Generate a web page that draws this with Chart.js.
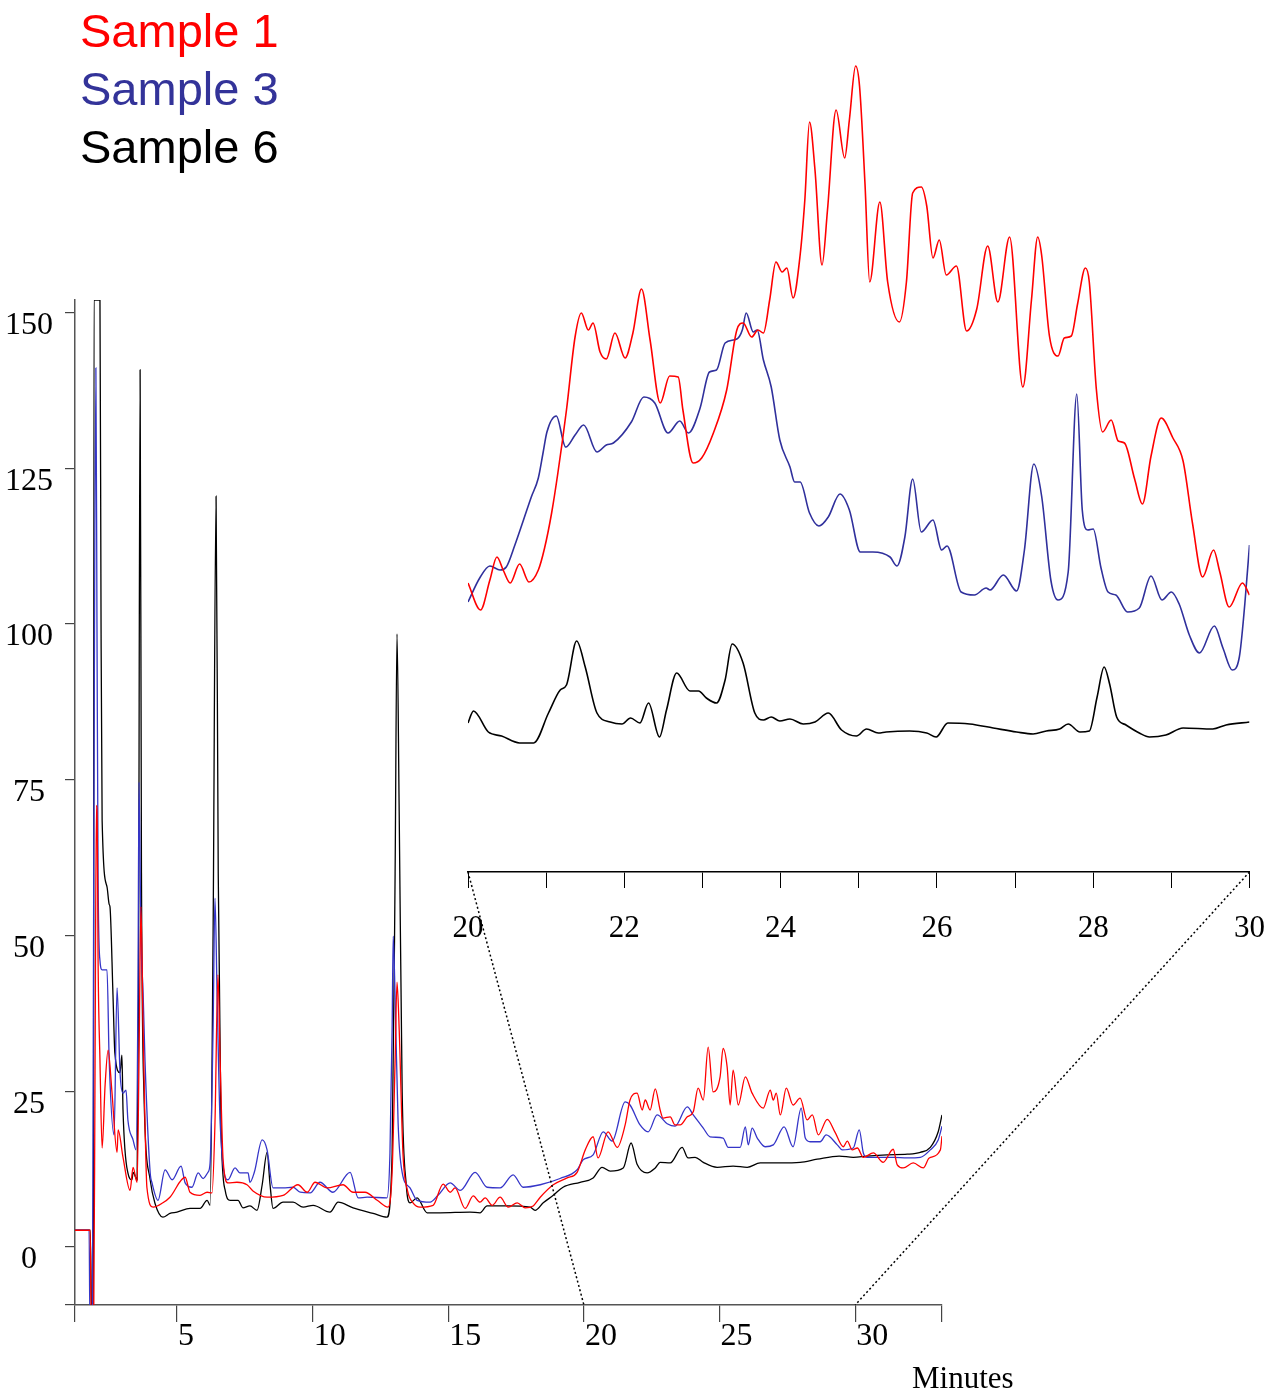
<!DOCTYPE html>
<html>
<head>
<meta charset="utf-8">
<title>Chromatogram</title>
<script src="https://cdn.jsdelivr.net/npm/chart.js@4.4.1/dist/chart.umd.min.js"></script>
<style>
  body { margin: 0; background: #fff; }
  #wrap { position: relative; width: 1287px; height: 1398px; overflow: hidden; }
  canvas { position: absolute; left: 0; top: 0; }
  .legend { position: absolute; left: 80px; font-family: "Liberation Sans", Arial, sans-serif; font-size: 47px; line-height: normal; white-space: nowrap; }
  #minutes { position: absolute; left: 912px; top: 1360px; font-family: "Liberation Serif", "Times New Roman", serif; font-size: 31px; line-height: normal; }
</style>
</head>
<body>
<div id="wrap">
  <canvas id="mainChart" width="1287" height="1398"></canvas>
  <canvas id="zoomChart" width="1287" height="1398"></canvas>
  <div id="minutes">Minutes</div>
</div>
<script>
const seriesNames = ['Sample 1', 'Sample 3', 'Sample 6'];
const legendColors = ['#ff0000', '#333399', '#000000'];
const mainColors = ['#ff0000', '#3535c8', '#000000'];
const zoomColors = ['#ff0000', '#30309c', '#000000'];

// full run (minutes / signal)
const s1Time = [
  1.24, 1.80, 1.84, 1.93, 1.98, 2.03, 2.06, 2.09, 2.16, 2.24,
  2.35, 2.46, 2.60, 2.79, 2.83, 3.01, 3.27, 3.38, 3.53, 3.60,
  3.67, 3.75, 3.82, 3.89, 4.12, 4.48, 4.74, 5.30, 5.48, 5.85,
  6.11, 6.29, 6.40, 6.51, 6.59, 6.70, 6.88, 7.21, 7.58, 7.80,
  8.32, 8.91, 9.46, 9.80, 10.09, 10.53, 11.12, 11.49, 11.93, 12.38,
  12.78, 12.93, 13.04, 13.11, 13.19, 13.33, 13.50, 13.70, 13.96, 14.44,
  14.81, 15.07, 15.25, 15.62, 15.92, 16.17, 16.36, 16.62, 16.91, 17.21,
  17.54, 17.83, 18.13, 18.39, 18.87, 19.38, 19.75, 20.05, 20.34, 20.52,
  20.89, 21.23, 21.52, 21.70, 21.96, 22.15, 22.26, 22.44, 22.63, 22.81,
  22.92, 23.18, 23.36, 23.55, 23.81, 24.03, 24.21, 24.40, 24.58, 24.76,
  25.02, 25.13, 25.28, 25.39, 25.50, 25.69, 25.95, 26.20, 26.61, 26.87,
  26.98, 27.09, 27.24, 27.46, 27.71, 27.97, 28.23, 28.42, 28.64, 28.97,
  29.26, 29.56, 29.71, 29.89, 30.08, 30.30, 30.67, 31.03, 31.40, 31.55,
  31.77, 32.14, 32.51, 32.73, 33.14, 33.20
];
const s1Value = [
  2.7, 2.7, -12, -12, 30, 70.9, 68, 46.5, 30, 15.9,
  26, 31.6, 25, 15.2, 18.8, 14.4, 9.1, 12.8, 10.4, 30,
  54.6, 35, 20, 9.6, 6.4, 7.1, 8.0, 11.2, 8.8, 8.3,
  8.8, 8.7, 20, 43.7, 30, 14, 10.3, 10.4, 10.0, 9.0,
  8.0, 8.3, 10.0, 8.8, 10.4, 9.5, 10.0, 8.8, 8.8, 7.5,
  6.4, 12, 30, 42.5, 35, 15, 9, 7.1, 6.4, 6.7,
  10.1, 8.8, 9.5, 6.2, 8.2, 7.2, 7.9, 6.7, 8.0, 6.4,
  7.1, 6.3, 6.6, 8.0, 10.0, 11.1, 12.0, 15.6, 17.7, 14.3,
  18.5, 16.0, 19.6, 23.6, 24.7, 22.0, 23.6, 22.0, 25.4, 22.0,
  20.7, 20.9, 19.6, 19.6, 20.9, 21.7, 25.5, 23.6, 32.1, 24.9,
  27.3, 31.9, 28.9, 22.8, 28.4, 22.8, 27.3, 24.7, 22.3, 25.2,
  23.6, 24.7, 21.2, 25.5, 22.8, 23.9, 20.4, 21.2, 18.0, 20.5,
  18.4, 16.1, 17.0, 15.6, 15.9, 14.4, 15.1, 13.6, 15.7, 13.2,
  12.7, 13.5, 12.7, 14.3, 15.6, 17.8
];

const s3Time = [
  1.24, 1.76, 1.79, 1.88, 1.93, 2.01, 2.05, 2.09, 2.16, 2.24,
  2.42, 2.50, 2.68, 2.79, 2.90, 3.01, 3.12, 3.19, 3.38, 3.49,
  3.56, 3.60, 3.67, 3.75, 3.82, 4.01, 4.08, 4.30, 4.56, 4.82,
  5.15, 5.30, 5.55, 5.78, 5.96, 6.14, 6.22, 6.33, 6.40, 6.48,
  6.59, 6.88, 7.14, 7.32, 7.62, 7.69, 7.85, 8.14, 8.32, 8.54,
  8.91, 9.28, 9.54, 9.91, 10.27, 10.75, 11.38, 11.68, 12.01, 12.74,
  12.85, 12.93, 12.97, 13.04, 13.15, 13.30, 13.59, 13.85, 14.33, 14.62,
  15.07, 15.44, 15.99, 16.43, 16.91, 17.39, 17.76, 18.39, 19.12, 19.75,
  19.97, 20.34, 20.71, 21.04, 21.52, 21.70, 22.07, 22.37, 22.70, 23.07,
  23.36, 23.81, 24.03, 24.40, 24.65, 25.13, 25.32, 25.76, 25.95, 26.06,
  26.20, 26.39, 26.68, 26.98, 27.38, 27.71, 28.01, 28.16, 28.34, 28.71,
  28.93, 29.34, 29.52, 29.93, 30.15, 30.30, 30.44, 31.40, 31.92, 32.40,
  32.77, 33.06, 33.20
];
const s3Value = [
  2.7, 2.7, -12, -12, 60, 141.1, 100, 60, 46, 44.5,
  44.5, 30, 18, 41.6, 28, 24.7, 25.2, 20.4, 17.2, 15.6,
  40, 74.6, 50, 40.9, 30, 12, 10.3, 7.5, 12.4, 10.8,
  13.0, 10.3, 9.6, 11.9, 11.0, 12.0, 13.5, 35, 56, 40,
  20, 10.8, 12.7, 11.9, 11.9, 10.4, 12, 17.2, 15.6, 9.5,
  9.5, 9.6, 8.8, 8.7, 10.4, 8.8, 12.0, 7.9, 8.0, 7.9,
  15, 35, 49.9, 40, 20, 12, 9.5, 7.5, 7.2, 8.3,
  10.3, 9.1, 12.0, 9.6, 9.5, 11.6, 9.6, 10.0, 11.0, 12.4,
  14.0, 14.8, 18.5, 17.0, 23.3, 22.8, 19.6, 18.5, 21.2, 19.8,
  19.4, 22.5, 21.2, 19.1, 17.7, 17.5, 16.0, 16.0, 19.3, 16.4,
  19.1, 17.5, 16.1, 16.4, 19.3, 16.1, 22.3, 17.5, 16.9, 16.9,
  18.0, 16.4, 15.6, 15.9, 18.8, 15.1, 14.4, 14.4, 14.3, 14.4,
  15.6, 17.2, 19.4
];

const s6Time = [
  1.24, 1.80, 1.86, 1.92, 1.94, 2.16, 2.20, 2.24, 2.42, 2.50,
  2.53, 2.64, 2.71, 2.90, 2.97, 3.01, 3.19, 3.34, 3.38, 3.53,
  3.58, 3.64, 3.69, 3.78, 4.01, 4.19, 4.48, 4.74, 5.00, 5.48,
  5.85, 6.11, 6.22, 6.33, 6.44, 6.52, 6.62, 6.78, 6.96, 7.25,
  7.43, 7.69, 7.95, 8.14, 8.32, 8.43, 8.54, 8.91, 9.28, 9.65,
  10.02, 10.64, 10.94, 11.49, 12.23, 12.74, 12.93, 13.04, 13.11, 13.19,
  13.30, 13.45, 13.59, 13.85, 14.22, 14.70, 15.80, 16.17, 16.43, 17.17,
  18.02, 18.20, 18.50, 18.87, 19.23, 19.86, 20.34, 20.67, 20.97, 21.45,
  21.74, 21.96, 22.33, 22.63, 22.81, 23.18, 23.62, 23.84, 24.10, 24.40,
  24.91, 25.50, 26.02, 26.50, 27.24, 27.97, 28.60, 29.41, 29.93, 30.44,
  31.18, 31.92, 32.40, 32.77, 33.06, 33.20
];
const s6Value = [
  2.7, 2.7, -12, -12, 152, 152, 100, 68.5, 57.8, 55,
  54.6, 40.5, 31.1, 28, 30.8, 22.0, 11.9, 10.8, 12.0, 10.8,
  40, 140.8, 60, 25, 10.8, 7.0, 4.8, 5.4, 5.6, 6.2,
  6.2, 7.5, 6.7, 50, 120.5, 60, 20, 9, 7.5, 7.5,
  6.3, 6.6, 5.9, 10, 15.2, 10, 6.2, 7.2, 7.2, 6.4,
  6.7, 5.6, 7.2, 6.3, 5.4, 4.8, 15, 60, 98.4, 70,
  25, 10, 7.1, 7.9, 5.5, 5.5, 5.6, 5.5, 6.6, 6.6,
  6.4, 5.9, 7.1, 8.3, 9.6, 10.4, 11.1, 12.8, 12.2, 12.7,
  16.7, 13.3, 11.9, 12.7, 13.6, 13.5, 16.0, 14.3, 14.4, 13.6,
  12.8, 13.0, 12.8, 13.5, 13.5, 13.6, 14.1, 14.6, 14.4, 14.6,
  14.8, 14.9, 15.2, 16.0, 18.5, 21.2
];

// expanded 20-30 min window (offset, rescaled signal)
const z1Time = [
  20.00, 20.16, 20.28, 20.37, 20.45, 20.54, 20.66, 20.78, 20.90, 20.98,
  21.07, 21.15, 21.26, 21.37, 21.45, 21.54, 21.60, 21.69, 21.77, 21.88,
  22.01, 22.11, 22.22, 22.33, 22.46, 22.58, 22.69, 22.75, 22.88, 22.99,
  23.14, 23.31, 23.44, 23.52, 23.63, 23.71, 23.78, 23.86, 23.94, 24.02,
  24.08, 24.16, 24.25, 24.31, 24.37, 24.44, 24.53, 24.60, 24.71, 24.82,
  24.88, 24.96, 25.01, 25.08, 25.14, 25.27, 25.37, 25.52, 25.61, 25.69,
  25.80, 25.87, 25.95, 26.03, 26.12, 26.25, 26.38, 26.51, 26.65, 26.78,
  26.93, 27.10, 27.21, 27.29, 27.34, 27.44, 27.55, 27.63, 27.72, 27.80,
  27.90, 27.95, 28.04, 28.12, 28.23, 28.32, 28.40, 28.53, 28.63, 28.74,
  28.87, 29.02, 29.15, 29.27, 29.40, 29.54, 29.62, 29.74, 29.91, 30.00
];
const z1Value = [
  28.9, 26.2, 29.2, 31.5, 30.2, 28.9, 30.8, 29.0, 30.2, 32.4,
  35.9, 39.9, 46.2, 53.5, 55.9, 54.2, 54.9, 52.0, 51.3, 53.9,
  51.4, 53.9, 58.3, 53.2, 46.9, 49.6, 49.5, 46.2, 40.9, 41.4,
  43.9, 48.2, 54.2, 54.9, 53.5, 54.2, 53.9, 57.2, 61.0, 60.0,
  60.4, 57.4, 61.7, 67.2, 75.0, 70.2, 60.7, 66.2, 76.2, 71.4,
  75.2, 80.6, 78.6, 68.8, 59.0, 67.0, 59.0, 55.0, 59.0, 67.9,
  68.5, 66.6, 61.4, 63.2, 59.7, 60.6, 54.1, 56.3, 62.6, 57.0,
  63.5, 48.5, 57.2, 63.5, 61.7, 53.6, 51.6, 53.4, 53.6, 56.8,
  60.4, 59.0, 48.3, 44.0, 45.2, 43.1, 42.9, 39.3, 36.8, 41.6,
  45.4, 43.4, 41.1, 34.9, 29.5, 32.2, 30.0, 26.5, 28.9, 27.7
];

const z3Time = [
  20.00, 20.15, 20.28, 20.41, 20.49, 20.60, 20.71, 20.81, 20.90, 20.96,
  21.01, 21.13, 21.25, 21.37, 21.48, 21.65, 21.77, 21.86, 22.09, 22.25,
  22.39, 22.56, 22.71, 22.82, 22.97, 23.09, 23.18, 23.29, 23.44, 23.51,
  23.56, 23.65, 23.70, 23.78, 23.88, 23.99, 24.12, 24.18, 24.25, 24.37,
  24.49, 24.61, 24.76, 24.88, 25.02, 25.18, 25.40, 25.49, 25.59, 25.69,
  25.80, 25.95, 26.06, 26.13, 26.31, 26.48, 26.63, 26.68, 26.85, 27.02,
  27.12, 27.24, 27.34, 27.46, 27.55, 27.68, 27.79, 27.86, 27.93, 28.00,
  28.10, 28.19, 28.29, 28.44, 28.59, 28.74, 28.88, 29.00, 29.10, 29.23,
  29.36, 29.55, 29.66, 29.78, 29.87, 29.94, 30.00
];
const z3Value = [
  27.0, 29.4, 30.6, 30.2, 30.5, 32.7, 35.2, 37.5, 39.4, 41.9,
  44.0, 45.6, 42.5, 43.7, 44.7, 42.0, 42.7, 42.9, 45.0, 47.5,
  46.9, 43.9, 45.1, 43.9, 46.4, 50.0, 50.2, 52.9, 53.3, 54.2,
  55.9, 54.0, 54.2, 51.2, 48.5, 43.2, 40.5, 39.0, 39.0, 35.9,
  34.6, 35.5, 37.8, 36.2, 32.0, 32.0, 31.5, 30.6, 33.5, 39.3,
  34.0, 35.2, 32.2, 32.6, 28.0, 27.7, 28.4, 28.2, 29.7, 28.1,
  32.2, 40.8, 37.6, 29.1, 27.2, 30.0, 47.8, 36.2, 34.2, 34.3,
  30.4, 28.0, 27.7, 26.0, 26.4, 29.6, 27.2, 28.0, 26.8, 23.7,
  21.9, 24.6, 22.4, 20.2, 21.5, 26.8, 32.7
];

const z6Time = [
  20.00, 20.07, 20.26, 20.43, 20.66, 20.84, 21.03, 21.18, 21.26, 21.39,
  21.50, 21.65, 21.82, 21.97, 22.08, 22.20, 22.31, 22.45, 22.54, 22.67,
  22.84, 22.95, 23.05, 23.18, 23.29, 23.38, 23.52, 23.67, 23.78, 23.88,
  23.99, 24.12, 24.29, 24.44, 24.61, 24.78, 24.97, 25.10, 25.25, 25.35,
  25.65, 25.87, 25.99, 26.14, 26.42, 26.72, 27.02, 27.23, 27.40, 27.57,
  27.68, 27.83, 27.95, 28.05, 28.14, 28.21, 28.30, 28.42, 28.59, 28.72,
  28.93, 29.15, 29.53, 29.70, 30.00
];
const z6Value = [
  14.9, 16.1, 14.0, 13.6, 12.9, 12.9, 15.9, 18.2, 18.7, 23.1,
  20.5, 15.9, 15.0, 14.8, 15.4, 14.9, 16.9, 13.5, 16.2, 19.9,
  18.1, 18.1, 17.4, 16.9, 19.2, 22.8, 20.9, 15.9, 15.2, 15.5,
  15.1, 15.3, 14.8, 15.0, 15.9, 14.2, 13.6, 14.3, 13.9, 14.0,
  14.1, 13.9, 13.5, 14.9, 14.8, 14.4, 14.0, 13.8, 14.1, 14.3,
  14.8, 14.0, 14.1, 17.5, 20.5, 18.8, 15.5, 14.7, 13.9, 13.5,
  13.7, 14.4, 14.3, 14.7, 15.0
];

const mainXTicks = [5, 10, 15, 20, 25, 30];
const mainYTicks = [0, 25, 50, 75, 100, 125, 150];
const zoomXTicks = [20, 21, 22, 23, 24, 25, 26, 27, 28, 29, 30];
const zoomXLabels = [20, 22, 24, 26, 28, 30];
const zoomRange = [20, 30];

const toPoints = (xs, ys) => xs.map((x, i) => ({ x: x, y: ys[i] }));

// legend as plain text
seriesNames.forEach((name, i) => {
  const d = document.createElement('div');
  d.className = 'legend';
  d.style.top = (3 + i * 58) + 'px';
  d.style.color = legendColors[i];
  d.textContent = name;
  document.getElementById('wrap').appendChild(d);
});

Chart.defaults.font.family = "'Liberation Serif', 'Times New Roman', serif";
Chart.defaults.color = '#000';

const mainSeries = [[s1Time, s1Value], [s3Time, s3Value], [s6Time, s6Value]];
const zoomSeries = [[z1Time, z1Value], [z3Time, z3Value], [z6Time, z6Value]];

const mainChart = new Chart(document.getElementById('mainChart'), {
  type: 'line',
  data: {
    datasets: mainSeries.map((s, i) => ({
      label: seriesNames[i],
      data: toPoints(s[0], s[1]),
      borderColor: mainColors[i],
      borderWidth: 1.3,
      pointRadius: 0,
      cubicInterpolationMode: 'monotone'
    }))
  },
  options: {
    responsive: false,
    animation: false,
    layout: { padding: { left: 0, top: 300, right: 345, bottom: 0 } },
    plugins: { legend: { display: false }, tooltip: { enabled: false } },
    scales: {
      x: {
        type: 'linear',
        min: 1.24,
        max: 33.2,
        afterBuildTicks: s => { s.ticks = [1.24, ...mainXTicks, 33.2].map(v => ({ value: v })); },
        afterFit: s => { s.height = 93; },
        ticks: {
          font: { size: 32 },
          align: 'start',
          padding: -5,
          labelOffset: 1,
          maxRotation: 0,
          autoSkip: false,
          callback: v => mainXTicks.includes(v) ? String(v) : ''
        },
        grid: { drawOnChartArea: false, tickLength: 17, color: '#444', lineWidth: 1.2 },
        border: { color: '#555', width: 1.5 }
      },
      y: {
        min: -9.3,
        max: 152,
        afterBuildTicks: s => { s.ticks = [-9.3, ...mainYTicks].map(v => ({ value: v })); },
        afterFit: s => { s.width = 75; },
        ticks: {
          font: { size: 32 },
          padding: 12,
          crossAlign: 'center',
          labelOffset: 13,
          autoSkip: false,
          callback: v => mainYTicks.includes(v) ? String(v) : ''
        },
        grid: { drawOnChartArea: false, tickLength: 10, color: '#444', lineWidth: 1.2 },
        border: { color: '#555', width: 1.5 }
      }
    }
  }
});

// dotted lines tying the expanded window back to the full run
const connector = {
  id: 'connector',
  afterDraw(chart) {
    const ctx = chart.ctx;
    const zx = chart.scales.x;
    const mx = mainChart.scales.x;
    const my = mainChart.scales.y;
    ctx.save();
    ctx.setLineDash([2, 2.5]);
    ctx.lineWidth = 1.5;
    ctx.strokeStyle = '#000';
    zoomRange.forEach(t => {
      ctx.beginPath();
      ctx.moveTo(zx.getPixelForValue(t), zx.top);
      ctx.lineTo(mx.getPixelForValue(t), my.bottom);
      ctx.stroke();
    });
    ctx.restore();
  }
};

const zoomChart = new Chart(document.getElementById('zoomChart'), {
  type: 'line',
  data: {
    datasets: zoomSeries.map((s, i) => ({
      label: seriesNames[i],
      data: toPoints(s[0], s[1]),
      borderColor: zoomColors[i],
      borderWidth: 1.6,
      pointRadius: 0,
      cubicInterpolationMode: 'monotone'
    }))
  },
  options: {
    responsive: false,
    animation: false,
    layout: { padding: { left: 468, top: 52, right: 37, bottom: 446 } },
    plugins: { legend: { display: false }, tooltip: { enabled: false } },
    scales: {
      x: {
        type: 'linear',
        min: zoomRange[0],
        max: zoomRange[1],
        afterBuildTicks: s => { s.ticks = zoomXTicks.map(v => ({ value: v })); },
        afterFit: s => { s.height = 80; },
        ticks: {
          font: { size: 31 },
          padding: 22,
          maxRotation: 0,
          autoSkip: false,
          callback: v => zoomXLabels.includes(v) ? String(v) : ''
        },
        grid: { drawOnChartArea: false, tickLength: 16, color: '#000', lineWidth: 1 },
        border: { color: '#000', width: 1.5 }
      },
      y: { display: false, min: 0, max: 82 }
    }
  },
  plugins: [connector]
});
</script>
</body>
</html>
